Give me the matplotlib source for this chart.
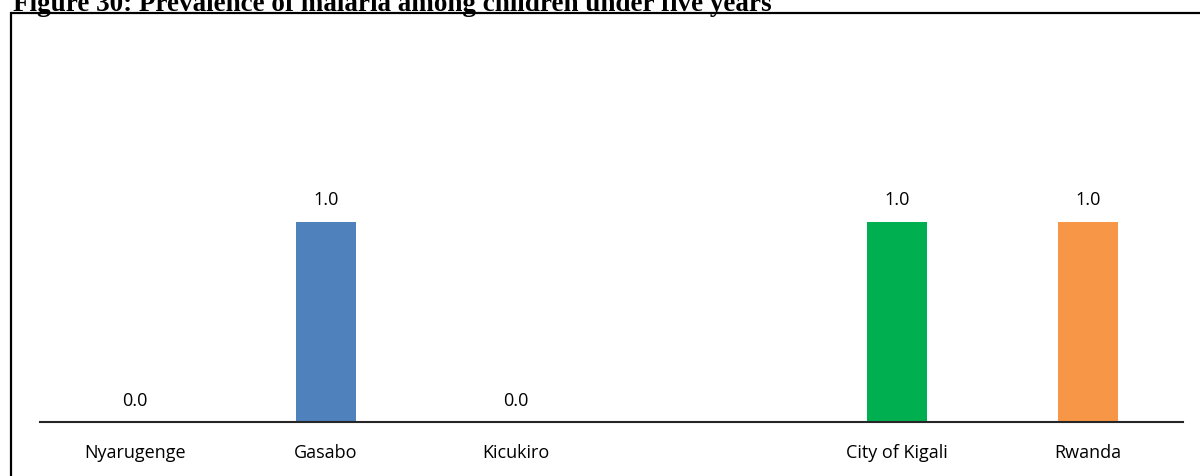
import matplotlib.pyplot as plt
import matplotlib.patches as mpatches
import numpy as np

# Data
categories = ["Nyarugenge", "Gasabo", "Kicukiro", "", "City of Kigali", "Rwanda"]
values = [0.0, 1.0, 0.0, None, 1.0, 1.0]
colors = ["#4F81BD", "#4F81BD", "#4F81BD", "white", "#00B050", "#F79646"]
title = "Figure 30: Prevalence of malaria among children under five years"

fig = plt.figure(figsize=(12, 4.76), dpi=100)
ax = fig.add_axes([40 / 1200, 1 - 422 / 476, 1143 / 1200, 1.9 * 200 / 476])

x = np.arange(len(categories))
for i, v in enumerate(values):
    if v is None:
        continue
    ax.bar(x[i], v, width=0.315, color=colors[i])
    ax.annotate(f"{v:.1f}", (x[i], v), xytext=(0, 9), textcoords="offset points",
                ha="center", va="bottom", fontsize=13, family="Open Sans")

ax.set_xlim(-0.5, len(categories) - 0.5)
ax.set_ylim(0, 1.9)
ax.set_xticks(x)
ax.set_xticklabels(categories, fontsize=13, family="Open Sans")
ax.tick_params(axis="x", length=0, pad=16)
ax.set_yticks([])
for side in ["top", "right", "left"]:
    ax.spines[side].set_visible(False)
ax.spines["bottom"].set_linewidth(1.5)
ax.spines["bottom"].set_color("#262626")

# Outer frame of the chart box
frame = mpatches.Rectangle((11 / 1200, -0.1), 1.2, 1 - 13 / 476 + 0.1,
                           transform=fig.transFigure, fill=False,
                           edgecolor="black", linewidth=1.6, clip_on=False)
fig.patches.append(frame)

# Title, clipped at the top like the source
fig.text(13 / 1200, 1 - 11 / 476, title, ha="left", va="baseline",
         fontsize=19.5, fontweight="bold", family="Liberation Serif")

fig.savefig("out.png", dpi=100)
